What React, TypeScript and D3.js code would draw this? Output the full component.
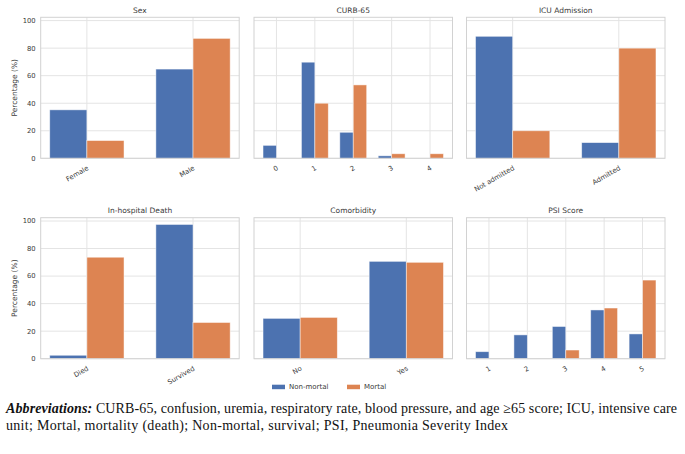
import React from "react";
import * as d3 from "d3";

// series
const seriesNames = ["Non-mortal", "Mortal"];
const seriesColors = ["#4C72B0", "#DD8452"];

// Sex
const sexCats = ["Female", "Male"];
const sexNonMortal = [35.2, 64.8];
const sexMortal = [12.9, 87.1];

// CURB-65
const curbCats = ["0", "1", "2", "3", "4"];
const curbNonMortal = [9.4, 69.8, 18.9, 1.8, 0];
const curbMortal = [0, 40.0, 53.3, 3.3, 3.3];

// ICU Admission
const icuCats = ["Not admitted", "Admitted"];
const icuNonMortal = [88.6, 11.4];
const icuMortal = [20.0, 80.0];

// In-hospital Death
const deathCats = ["Died", "Survived"];
const deathNonMortal = [2.5, 97.5];
const deathMortal = [73.7, 26.3];

// Comorbidity
const comorbCats = ["No", "Yes"];
const comorbNonMortal = [29.3, 70.7];
const comorbMortal = [30.0, 70.0];

// PSI Score
const psiCats = ["1", "2", "3", "4", "5"];
const psiNonMortal = [5.1, 17.3, 23.4, 35.4, 18.0];
const psiMortal = [0, 0, 6.3, 36.8, 57.1];

const yTicks = [0, 20, 40, 60, 80, 100];

const panels = [
  { title: "Sex", cats: sexCats, values: [sexNonMortal, sexMortal] },
  { title: "CURB-65", cats: curbCats, values: [curbNonMortal, curbMortal] },
  { title: "ICU Admission", cats: icuCats, values: [icuNonMortal, icuMortal] },
  { title: "In-hospital Death", cats: deathCats, values: [deathNonMortal, deathMortal] },
  { title: "Comorbidity", cats: comorbCats, values: [comorbNonMortal, comorbMortal] },
  { title: "PSI Score", cats: psiCats, values: [psiNonMortal, psiMortal] },
];

const W = 685;
const H = 454;
const colLefts = [40.7, 254, 466.5];
const rowTops = [17.3, 217.7];
const panelW = 198.5;
const panelH = 141;
const barW = 0.35;

const textColor = "#3a3a3a";
const gridColor = "#e4e4e4";
const spineColor = "#d2d2d2";
const sans = "DejaVu Sans, sans-serif";

const Panel = ({ p, idx }: { p: (typeof panels)[number]; idx: number }) => {
  const col = idx % 3;
  const row = Math.floor(idx / 3);
  const left = colLefts[col];
  const top = rowTops[row];
  const n = p.cats.length;
  const pad = (n - 1 + 2 * barW) * 0.05;

  const x = d3
    .scaleLinear()
    .domain([-barW - pad, n - 1 + barW + pad])
    .range([left, left + panelW]);
  const y = d3.scaleLinear().domain([0, 102.4]).range([top + panelH, top]);
  const bottom = top + panelH;

  return (
    <g>
      {/* grid */}
      {yTicks.map((t) => (
        <line
          key={"gy" + t}
          x1={left}
          x2={left + panelW}
          y1={y(t)}
          y2={y(t)}
          stroke={gridColor}
          strokeWidth={1}
        />
      ))}
      {p.cats.map((c, i) => (
        <line
          key={"gx" + c}
          x1={x(i)}
          x2={x(i)}
          y1={top}
          y2={bottom}
          stroke={gridColor}
          strokeWidth={1}
        />
      ))}
      {/* bars */}
      {p.values.map((vals, s) =>
        vals.map((v, i) => {
          const x0 = s === 0 ? i - barW : i;
          return (
            <rect
              key={s + "-" + i}
              x={x(x0)}
              y={y(v)}
              width={x(x0 + barW) - x(x0)}
              height={bottom - y(v)}
              fill={seriesColors[s]}
              stroke="#ffffff"
              strokeOpacity={0.6}
              strokeWidth={0.8}
            />
          );
        })
      )}
      {/* spines */}
      <rect
        x={left}
        y={top}
        width={panelW}
        height={panelH}
        fill="none"
        stroke={spineColor}
        strokeWidth={1}
      />
      {/* title */}
      <text
        x={left + panelW / 2}
        y={top - 4.5}
        textAnchor="middle"
        fontFamily={sans}
        fontSize={7.5}
        fill={textColor}
      >
        {p.title}
      </text>
      {/* x tick labels */}
      {p.cats.map((c, i) => (
        <text
          key={"xl" + c}
          transform={`translate(${x(i) + 1},${bottom + 9}) rotate(-30)`}
          textAnchor="end"
          dy="0.35em"
          fontFamily={sans}
          fontSize={6.8}
          fill={textColor}
        >
          {c}
        </text>
      ))}
      {/* y axis only on left column */}
      {col === 0 &&
        yTicks.map((t) => (
          <text
            key={"yl" + t}
            x={left - 5}
            y={y(t)}
            dy="0.35em"
            textAnchor="end"
            fontFamily={sans}
            fontSize={6.8}
            fill={textColor}
          >
            {t}
          </text>
        ))}
      {col === 0 && (
        <text
          transform={`translate(14,${top + panelH / 2}) rotate(-90)`}
          textAnchor="middle"
          dy="0.35em"
          fontFamily={sans}
          fontSize={7.5}
          fill={textColor}
        >
          Percentage (%)
        </text>
      )}
    </g>
  );
};

export default function App() {
  const legendX = [272, 347];
  const legendY = 387;
  return (
    <div style={{ position: "absolute", left: 0, top: 0 }}>
      <svg width={W} height={H} viewBox={`0 0 ${W} ${H}`} style={{ display: "block", background: "#fff" }}>
        {panels.map((p, i) => (
          <Panel key={p.title} p={p} idx={i} />
        ))}

        {/* legend */}
        {seriesNames.map((s, i) => (
          <g key={s}>
            <rect x={legendX[i]} y={legendY - 2.3} width={13} height={4.5} fill={seriesColors[i]} />
            <text
              x={legendX[i] + 17}
              y={legendY}
              dy="0.35em"
              fontFamily={sans}
              fontSize={7}
              fill={textColor}
            >
              {s}
            </text>
          </g>
        ))}

        {/* caption */}
        <text
          x={6}
          y={413}
          fontFamily="Liberation Serif, serif"
          fontSize={14}
          fill="#111"
          textLength={671}
          lengthAdjust="spacing"
        >
          <tspan fontWeight="bold" fontStyle="italic">
            Abbreviations:
          </tspan>
          <tspan> CURB-65, confusion, uremia, respiratory rate, blood pressure, and age ≥65 score; ICU, intensive care</tspan>
        </text>
        <text
          x={6}
          y={430}
          fontFamily="Liberation Serif, serif"
          fontSize={14}
          fill="#111"
          textLength={502}
          lengthAdjust="spacing"
        >
          unit; Mortal, mortality (death); Non-mortal, survival; PSI, Pneumonia Severity Index
        </text>
      </svg>
    </div>
  );
}
